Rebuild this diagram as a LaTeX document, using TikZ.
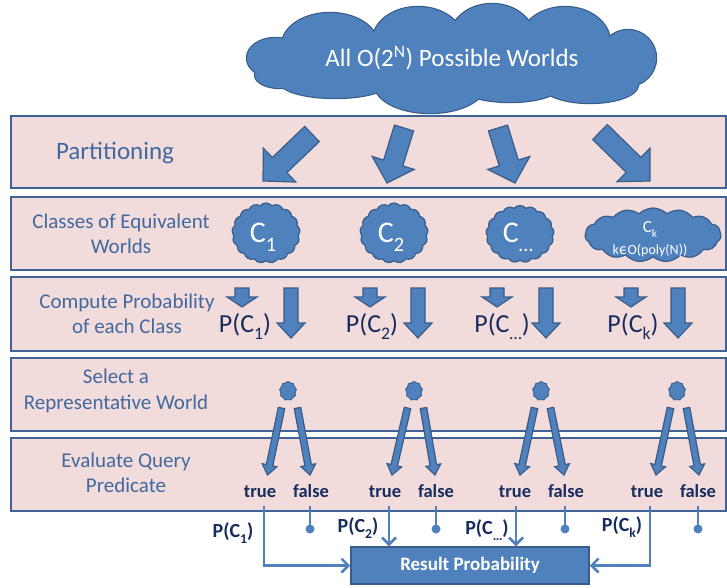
\documentclass[tikz,border=0pt]{standalone}
\usepackage{fontspec}
\setmainfont{Carlito}
\newfontfamily\dejavu{DejaVu Sans}
\usetikzlibrary{shapes.symbols,calc,arrows.meta}
\definecolor{bandfill}{HTML}{F2DCDB}
\definecolor{bandline}{HTML}{3F6396}
\definecolor{bfill}{HTML}{4F81BD}
\definecolor{bline}{HTML}{385D8A}
\definecolor{btext}{HTML}{4169A0}
\definecolor{navy}{HTML}{172C5E}
\newcommand{\lowsub}[1]{\raisebox{-0.3em}{\scalebox{0.68}{#1}}}
\newcommand{\fs}[1]{\fontsize{#1}{#1}\selectfont}
\newcommand{\blockarr}[5]{%
  \coordinate (bah) at ($(#2)!#5!(#1)$);
  \draw[blockarrow] ($(#1)!#3!90:(#2)$) -- ($(bah)!#3!90:(#2)$) -- ($(bah)!#4!90:(#2)$)
    -- (#2) -- ($(bah)!#4!-90:(#2)$) -- ($(bah)!#3!-90:(#2)$) -- ($(#1)!#3!-90:(#2)$) -- cycle;}
\newcommand{\lobes}{275/58/28/20, 330/45/48/32, 418/40/45/33, 492/38/42/34, 565/42/45/35, 628/58/28/28, 590/85/48/18, 510/86/50/16, 430/85/55/28, 335/82/55/16, 280/75/25/13, 451/60/160/30}
\tikzset{
  band/.style={draw=bandline, fill=bandfill, line width=2pt},
  blockarrow/.style={fill=bfill, draw=bline, line width=1.2pt, line join=miter},
  bandlabel/.style={text=btext, align=center, inner sep=0pt},
  cloudy/.style={cloud, cloud ignores aspect, fill=bfill, draw=bline, line width=1.2pt, inner sep=0pt, text=white},
  blob/.style={cloud, cloud puffs=9, cloud puff arc=110, cloud ignores aspect, fill=bfill, draw=bline, line width=0.8pt, minimum width=17pt, minimum height=19pt, inner sep=0pt},
  navytext/.style={text=navy, inner sep=0pt, anchor=base},
  tf/.style={text=navy, inner sep=0pt, anchor=base, font=\fs{18.5}\bfseries},
  plab/.style={text=navy, inner sep=0pt, anchor=base, font=\fs{20}\bfseries},
  conn/.style={draw=bfill, line width=2.5pt},
  tip/.style={-{Straight Barb[length=7pt,width=14pt]}},
  dot/.style={circle, fill=bfill, inner sep=0pt, minimum size=9pt},
}
\begin{document}
\begin{tikzpicture}[x=1pt,y=-1pt]
\useasboundingbox (0,0) rectangle (727,587);
% bands
\path[band] (10.5,116) rectangle (726,188);
\path[band] (10.5,197) rectangle (726,270);
\path[band] (10.5,277) rectangle (726,351);
\path[band] (10.5,358) rectangle (726,431);
\path[band] (10.5,438) rectangle (726,511);
% band labels
\node[bandlabel, font=\fs{25}] (lab1) at (115,153) {Partitioning};
\node[bandlabel, font=\fontsize{21}{25}\selectfont] (lab2) at (121,234) {Classes of Equivalent\\Worlds};
\node[bandlabel, font=\fontsize{21}{25}\selectfont] (lab3) at (127,314) {Compute Probability\\of each Class};
\node[bandlabel, font=\fontsize{21}{26}\selectfont] (lab4) at (116,391) {Select a\\Representative World};
\node[bandlabel, font=\fontsize{21}{25}\selectfont] (lab5) at (126,473) {Evaluate Query\\Predicate};
% top cloud (union of lobes)
\foreach \cx/\cy/\rx/\ry in \lobes {
  \draw[draw=bline, fill=bfill, line width=2.4pt] (\cx,\cy) ellipse [x radius=\rx pt, y radius=\ry pt];
}
\foreach \cx/\cy/\rx/\ry in \lobes {
  \fill[bfill] (\cx,\cy) ellipse [x radius=\rx pt, y radius=\ry pt];
}
\node[text=white, inner sep=0pt, font=\fs{25}] (all) at (452,58) {All O(2\textsuperscript{N}) Possible Worlds};
% partition arrows
\blockarr{312,134}{263,181}{10.5pt}{23.5pt}{23pt}
\blockarr{404,128}{387,183}{10pt}{22pt}{21pt}
\blockarr{498,128}{515,183}{10pt}{22pt}{21pt}
\blockarr{600,132}{650,181}{10.5pt}{23.5pt}{23pt}
% class clouds
\node[cloudy, cloud puffs=17, cloud puff arc=100, minimum width=68pt, minimum height=60pt] (c1) at (266,233) {};
\node[cloudy, cloud puffs=17, cloud puff arc=100, minimum width=68pt, minimum height=60pt] (c2) at (394,233) {};
\node[cloudy, cloud puffs=17, cloud puff arc=100, minimum width=68pt, minimum height=57pt] (c3) at (520,234) {};
\node[cloudy, cloud puffs=15, cloud puff arc=90, minimum width=136pt, minimum height=54pt] (c4) at (653,235) {};
\node[text=white, inner sep=0pt, anchor=base, font=\fs{30}] (c1t) at (263,242) {C\lowsub{1}};
\node[text=white, inner sep=0pt, anchor=base, font=\fs{30}] (c2t) at (391,242) {C\lowsub{2}};
\node[text=white, inner sep=0pt, anchor=base, font=\fs{30}] (c3t) at (518,242) {C\lowsub{…}};
\node[text=white, inner sep=0pt, anchor=base, font=\fs{17}] (c4t) at (650,232) {C\lowsub{k}};
\node[text=white, inner sep=0pt, anchor=base, font=\fs{14}] (c4n) at (650,254) {k{\dejavu ϵ}O(poly(N))};
% compute probability arrows
\foreach \x in {242,370,497,631} {\blockarr{\x,288}{\x,307}{7pt}{15pt}{10pt}}
\foreach \x in {291,418,546,678} {\blockarr{\x,288}{\x,338}{7pt}{14pt}{15pt}}
\node[navytext, font=\fs{26}] (p1) at (245,332) {P(C\lowsub{1})};
\node[navytext, font=\fs{26}] (p2) at (372,332) {P(C\lowsub{2})};
\node[navytext, font=\fs{26}] (p3) at (502,332) {P(C\lowsub{…})};
\node[navytext, font=\fs{26}] (p4) at (633,332) {P(C\lowsub{k})};
% representative worlds
\node[blob] (w1) at (288,391) {};
\node[blob] (w2) at (414,391) {};
\node[blob] (w3) at (541,391) {};
\node[blob] (w4) at (677,391) {};
\foreach \bx/\tx/\fx in {288/267.5/310, 414/392/435, 541/520/564, 677/656/699} {
  \blockarr{\bx-6.5,408}{\tx,475}{3.3pt}{7.5pt}{10pt}
  \blockarr{\bx+9.5,408}{\fx,475}{3.3pt}{7.5pt}{10pt}
}
% true / false
\node[tf] (t1) at (260,497) {true};  \node[tf] (f1) at (311,497) {false};
\node[tf] (t2) at (385,497) {true};  \node[tf] (f2) at (436,497) {false};
\node[tf] (t3) at (515,497) {true};  \node[tf] (f3) at (566,497) {false};
\node[tf] (t4) at (647,497) {true};  \node[tf] (f4) at (698,497) {false};
% result
\node[draw=bline, fill=bfill, line width=1.5pt, minimum width=238pt, minimum height=37pt, inner sep=0pt, text=white, font=\fs{19}\bfseries] (res) at (470,565.5) {Result Probability};
\coordinate (l1) at (264,506);
\coordinate (l2) at (389,506);
\coordinate (l3) at (516,506);
\coordinate (l4) at (650,506);
\draw[conn, tip] (l1) |- (res.west);
\draw[conn, tip] (l2) -- (l2 |- res.north);
\draw[conn, tip] (l3) -- (l3 |- res.north);
\draw[conn, tip] (l4) |- (res.east);
\foreach \i/\x in {1/310, 2/436, 3/565, 4/698} {
  \coordinate (fl\i) at (\x,506);
  \node[dot] (fd\i) at (\x,529) {};
  \draw[conn] (fl\i) -- (fd\i.center);
}
\node[plab] (q1) at (233,537) {P(C\lowsub{1})};
\node[plab] (q2) at (358,532) {P(C\lowsub{2})};
\node[plab] (q3) at (487,534) {P(C\lowsub{…})};
\node[plab] (q4) at (622,531) {P(C\lowsub{k})};
\end{tikzpicture}
\end{document}
